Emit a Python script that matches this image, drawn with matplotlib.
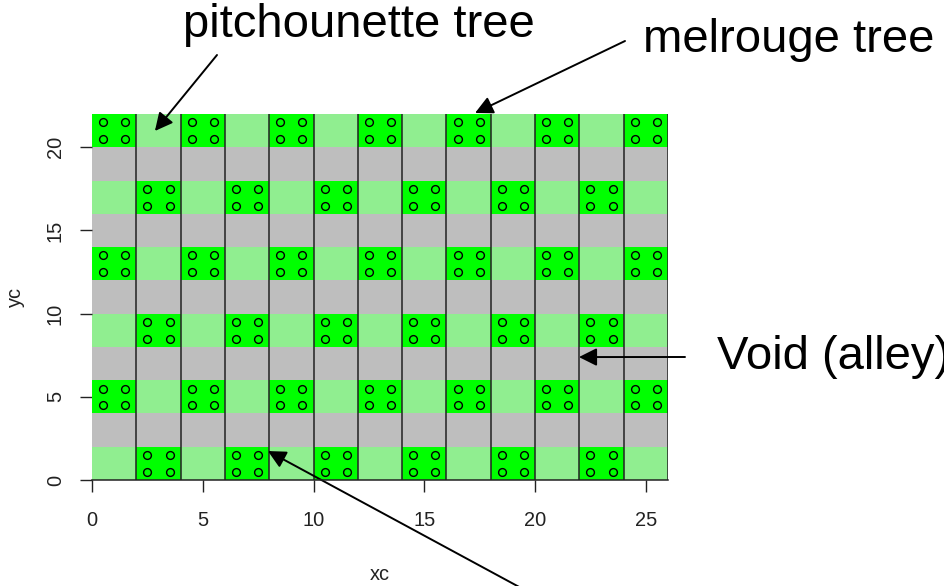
import matplotlib
matplotlib.use("Agg")
import matplotlib.pyplot as plt

# ---- data ----
col_starts = [0, 2, 4, 6, 8, 10, 12, 14, 16, 18, 20, 22, 24]
tree_rows = [0, 4, 8, 12, 16, 20]          # rows with trees (light green)
alley_rows = [2, 6, 10, 14, 18]            # void rows (grey)
melrouge_cols_a = [2, 6, 10, 14, 18, 22]   # melrouge cells for rows 0, 8, 16
melrouge_cols_b = [0, 4, 8, 12, 16, 20, 24]  # melrouge cells for rows 4, 12, 20
rows_a = [0, 8, 16]
rows_b = [4, 12, 20]
cell_size = 2
tree_offsets = [0.5, 1.5]
x_ticks = [0, 5, 10, 15, 20, 25]
y_ticks = [0, 5, 10, 15, 20]

LIGHT = "#90EE90"
BRIGHT = "#00FF00"
GREY = "#BEBEBE"

plt.rcParams['font.family'] = ['Liberation Sans', 'DejaVu Sans']

fig = plt.figure(figsize=(9.44, 5.86), dpi=100)
W, H = 944, 586
ax = fig.add_axes([92 / W, (H - 480) / H, (668 - 92) / W, (480 - 114) / H])
ax.set_xlim(0, 26)
ax.set_ylim(0, 22)

# background rows
for y in tree_rows:
    ax.bar(col_starts, [cell_size] * len(col_starts), width=cell_size, bottom=y,
           align='edge', color=LIGHT, linewidth=0, zorder=1)
for y in alley_rows:
    ax.bar(col_starts, [cell_size] * len(col_starts), width=cell_size, bottom=y,
           align='edge', color=GREY, linewidth=0, zorder=1)

# melrouge cells
mel_cells = [(x, y) for y in rows_a for x in melrouge_cols_a] + \
            [(x, y) for y in rows_b for x in melrouge_cols_b]
for x, y in mel_cells:
    ax.bar([x], [cell_size], width=cell_size, bottom=y, align='edge',
           color=BRIGHT, linewidth=0, zorder=2)

# tree points (circles)
px, py = [], []
for x, y in mel_cells:
    for dx in tree_offsets:
        for dy in tree_offsets:
            px.append(x + dx)
            py.append(y + dy)
ax.plot(px, py, linestyle='none', marker='o', markersize=5.6,
        markerfacecolor='none', markeredgecolor='black', markeredgewidth=1.0,
        zorder=4)

# vertical separators
for x in col_starts[1:] + [26]:
    ax.axvline(x, color='#222222', lw=1.1, zorder=3)

for s in ['top', 'right', 'left']:
    ax.spines[s].set_visible(False)
ax.spines['bottom'].set_color('#222222')
ax.spines['bottom'].set_linewidth(1.1)
ax.spines['bottom'].set_zorder(5)

ax.set_xticks(x_ticks)
ax.set_yticks(y_ticks)
ax.tick_params(axis='both', direction='out', length=8.6, width=1.0,
               colors='#222222', labelsize=14.4)
ax.tick_params(axis='x', pad=14)
ax.tick_params(axis='y', pad=11)
for lab in ax.get_yticklabels():
    lab.set_rotation(90)
    lab.set_va('center')
    lab.set_ha('right')

ax.set_xlabel('xc', fontsize=14.4, color='#222222')
ax.set_ylabel('yc', fontsize=14.4, color='#222222')
ax.xaxis.set_label_coords(0.5, (480 - 574) / 366)
ax.xaxis.label.set_va('center')
ax.yaxis.set_label_coords((15 - 92) / 576, 0.5)
ax.yaxis.label.set_va('center')
ax.yaxis.label.set_ha('center')

# annotations
arrow = dict(arrowstyle='-|>,head_length=0.6,head_width=0.3', color='black',
             lw=1.4, mutation_scale=18, shrinkA=0, shrinkB=0)
ax.annotate('', xy=(2.84, 20.98), xycoords='data', xytext=(217, H - 55),
            textcoords='figure pixels', arrowprops=arrow, annotation_clip=False)
ax.annotate('', xy=(17.29, 22.06), xycoords='data', xytext=(625, H - 41),
            textcoords='figure pixels', arrowprops=arrow, annotation_clip=False)
ax.annotate('', xy=(21.98, 7.39), xycoords='data', xytext=(685, H - 357),
            textcoords='figure pixels', arrowprops=arrow, annotation_clip=False)
ax.annotate('', xy=(7.94, 1.74), xycoords='data', xytext=(534, -9),
            textcoords='figure pixels', arrowprops=arrow, annotation_clip=False)

fig.text(183 / W, (H - 37) / H, 'pitchounette tree', fontsize=34,
         ha='left', va='baseline')
fig.text(643 / W, (H - 52) / H, 'melrouge tree', fontsize=34,
         ha='left', va='baseline')
fig.text(717 / W, (H - 369) / H, 'Void (alley)', fontsize=34,
         ha='left', va='baseline')

fig.savefig('out.png', dpi=100)
